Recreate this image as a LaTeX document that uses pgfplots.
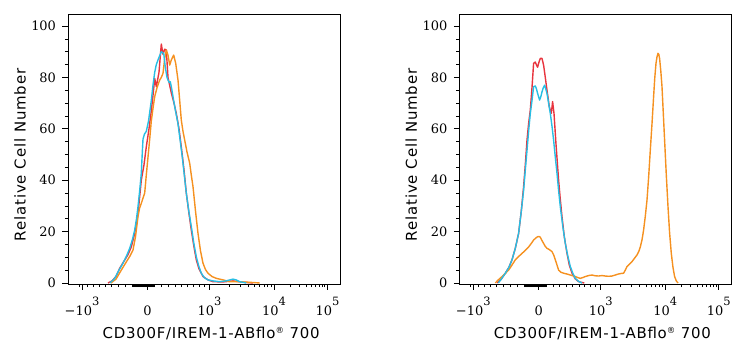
\documentclass[border=0pt]{standalone}
\usepackage{pgfplots}
\pgfplotsset{compat=1.18}
\usepackage{fontspec}
\setmainfont{DejaVu Sans}
\newfontfamily\xlabfont[LetterSpace=5]{DejaVu Sans}
\newfontfamily\ylabfont[LetterSpace=6]{DejaVu Sans}
\newfontfamily\tickfont{DejaVu Serif}
\definecolor{cred}{RGB}{232,52,62}
\definecolor{corange}{RGB}{245,145,32}
\definecolor{ccyan}{RGB}{40,190,228}
\newcommand{\ex}[1]{\raisebox{10.5bp}{\fontsize{11.5}{11.5}\selectfont #1}}
\pgfplotsset{flowax/.style={
  width=272bp, height=270bp, scale only axis,
  xmin=0, xmax=272, ymin=-0.4, ymax=104.7,
  axis line style={line width=0.9bp},
  tick align=outside, xtick pos=bottom, ytick pos=left,
  xtick={14,79.5,141.5,206,259.5},
  xticklabels={{−10\ex{3}},{0},{10\ex{3}},{10\ex{4}},{10\ex{5}}},
  minor xtick={11,19.4,25.0,31.0,37.2,43.7,50.5,57.5,64.7,65.5,66.2,66.9,67.7,68.4,69.1,69.9,70.6,71.3,72.1,72.8,73.55,74.3,75.04,75.78,76.53,77.27,78.01,78.76,80.2,80.9,81.6,82.3,83.0,83.7,84.4,85.1,85.8,86.5,93.5,100.3,106.9,113.4,119.5,125.4,131.0,136.4,160.9,172.3,180.3,186.6,191.7,196.0,199.7,203.0,222.0,231.3,237.9,243.0,247.2,250.8,253.9,256.6},
  ytick={0,20,40,60,80,100},
  yticklabels={0,20,40,60,80,100},
  minor ytick={5,10,15,25,30,35,45,50,55,65,70,75,85,90,95},
  major tick length=5.5bp, minor tick length=3bp,
  every tick/.style={black, line width=0.8bp},
  every minor tick/.style={black, line width=0.6bp},
  tick label style={font=\tickfont\fontsize{13}{13}\selectfont},
  xticklabel style={anchor=base, yshift=-26bp},
  yticklabel style={anchor=east, xshift=-3bp},
  xlabel={CD300F/IREM-1-ABflo{\raisebox{0.55ex}{\fontsize{8.5}{8.5}\selectfont ®}} 700},
  ylabel={Relative Cell Number},
  xlabel style={font=\xlabfont\fontsize{15}{16}\selectfont, at={(axis description cs:0.526,0)}, anchor=base, yshift=-54bp},
  ylabel style={font=\ylabfont\fontsize{15}{16}\selectfont, at={(axis description cs:-0.1765,0.478)}, anchor=center},
  every axis plot/.append style={line width=1.4bp, line join=round},
}}
\begin{document}
\begin{tikzpicture}
\path[use as bounding box] (0,0) rectangle (745bp,350bp);
\begin{axis}[flowax, at={(68bp,66bp)}, anchor=south west]
\addplot[cred] coordinates {(40,0) (44,0.8) (48,2.5) (51.7,5.7) (56,8.5) (60,11) (63.3,14) (66.5,19) (70,27) (73.3,40) (76,46) (78.3,53) (81,60) (83.3,67) (85,73) (86.7,79.6) (88.3,76.4) (91,82) (93.3,93) (95,89) (96.7,91) (98.3,90.7) (100,80) (103.3,74) (106,70) (108.3,66) (111,60) (113.3,53) (116,44) (118.3,35) (121,27) (123.3,20.6) (126,14) (128.3,9) (131,5.5) (135,2.5) (140,1.2) (145,0.5) (155,0.4) (165,0.8) (175,0.3) (185,0)};
\addplot[corange] coordinates {(43,0) (48,1.5) (53.3,5) (58,8) (62,10.5) (65,12.8) (67.5,18) (70,25.8) (71.5,29) (73.3,31) (75,33) (76.7,35) (78.3,42) (80,49) (81.7,56) (83.3,63) (85,68) (86.7,72.5) (89,76) (91.7,79) (93.3,80) (95,81.6) (96,85) (96.7,87.4) (98.3,90.7) (100,88.7) (101.7,84.8) (103.3,86.8) (105.7,88.7) (107.7,85.5) (110,79) (111.7,71) (113.3,63.4) (115,59) (116.7,55.6) (119,51) (121.7,46.6) (123.3,42) (125,37.5) (127.5,28) (130,19.3) (132.5,12.5) (135,7.7) (137.5,5.2) (140,3.8) (144,2.5) (148.3,1.8) (155,1.2) (161.7,0.5) (170,0.5) (180,0.3) (191.7,0)};
\addplot[ccyan] coordinates {(42,0) (46.7,1.8) (51,5) (55,7.7) (58.5,10.5) (61.7,13.5) (64.5,17) (66.7,20.6) (68.5,25) (70,29.7) (71.7,36) (73.3,42.7) (74.2,50) (75,56) (76.5,58) (78.3,59) (80.5,63) (83.3,71) (85,77) (86.7,82) (88.3,85) (90,86.8) (91.7,88.5) (93.3,90) (95.7,89.4) (97.3,84) (99,80) (100,79) (101.2,78) (102.3,78.3) (103.5,76) (105,72.5) (107.5,67) (110,62) (112,56) (114.3,49) (116.3,42) (118.3,35) (120.8,28) (123.3,22) (125.8,15.5) (128.3,10.2) (130.8,6.5) (133.3,3.8) (136.5,2) (140,1.2) (145,0.8) (151.7,0.5) (158,0.8) (165,1.5) (168,1.2) (171.7,0.5) (178.3,0)};
\end{axis}
\begin{axis}[flowax, at={(459.3bp,66bp)}, anchor=south west]
\addplot[cred] coordinates {(37.7,0) (42,1.5) (46,3.8) (49.5,6) (52.7,9) (56,13.5) (59.3,19.3) (62,28) (64.3,37.5) (66,46) (67.7,55.6) (69.3,62) (71,67.3) (72.7,76) (74.3,85.5) (76,86) (77,85) (78.3,84) (79.7,86) (81,87.4) (82.7,87.4) (84.3,84.8) (86,80) (87.7,75) (90,68.6) (92,66) (93.3,70.6) (94.7,66) (95.7,60) (96.7,54) (98,47) (99.3,40) (101,32.5) (102.7,25.8) (105,18) (107.7,11.5) (110,7) (112.7,3.8) (116,1.6) (119.3,0.5) (125,0)};
\addplot[corange] coordinates {(36,0) (39,1.2) (42.7,2.5) (46,3.7) (49.3,5) (52.7,7) (56,9) (59.3,10.3) (62.7,11.5) (66,12.7) (69.3,14) (72,15.4) (74.3,16.7) (76.5,17.5) (78.3,18) (79.7,18.1) (81,17.8) (82.7,16.5) (84.3,15.4) (86,14.2) (87.7,13.5) (90,13) (92.7,12.2) (94.5,10.8) (96,9) (97.7,7) (99.3,5) (101.5,4.2) (104.3,3.8) (107.5,3.5) (111,3.1) (113.5,2.8) (116,2.5) (118.5,2.1) (121,1.8) (123.5,2.1) (126,2.5) (129.5,2.9) (132.7,3.1) (136,2.8) (139.3,2.7) (142.7,2.9) (146,2.7) (149.3,2.6) (152.7,2.7) (156,3.1) (159.3,3.5) (162,3.7) (164.3,3.8) (166,5) (167.7,6.4) (170,7.3) (172.7,8.3) (175,9.5) (177.7,10.9) (179.5,12.3) (181,14) (182.7,16.8) (184.3,20.6) (186,26) (187.7,32.3) (189.3,41) (191,51.7) (192.7,62) (194.3,72.5) (195.5,80) (196.7,85.5) (197.7,88) (198.7,89.4) (199.5,89) (200.3,87.4) (201.5,82.5) (202.7,76.4) (204,66) (205.3,55.6) (207,42) (208.7,29.7) (210.3,19.5) (212,11.5) (213.7,6) (215.3,2.5) (217,0.8) (218.7,0)};
\addplot[ccyan] coordinates {(39,0) (42,1.5) (46,3.8) (49.5,6) (52.7,9) (56,13.5) (59.3,19.3) (62,28) (64.3,36) (66,44) (67.7,51.6) (69.3,59) (71,66) (72.7,71) (74.3,76.4) (76,76.7) (77.2,75.5) (78.3,73.8) (80.3,71.2) (81.5,72.5) (82.7,74.4) (84,76) (85.3,77) (86.5,75.5) (87.7,73.8) (89.3,70) (91,66) (92.7,61) (94.3,55.6) (96,49) (97.7,42.7) (99.3,36) (101,29.7) (103.5,22) (106,15.4) (108.5,10.5) (111,6.4) (113.5,3.8) (116,1.8) (119,0.7) (122.7,0)};
\end{axis}
\end{tikzpicture}
\end{document}
